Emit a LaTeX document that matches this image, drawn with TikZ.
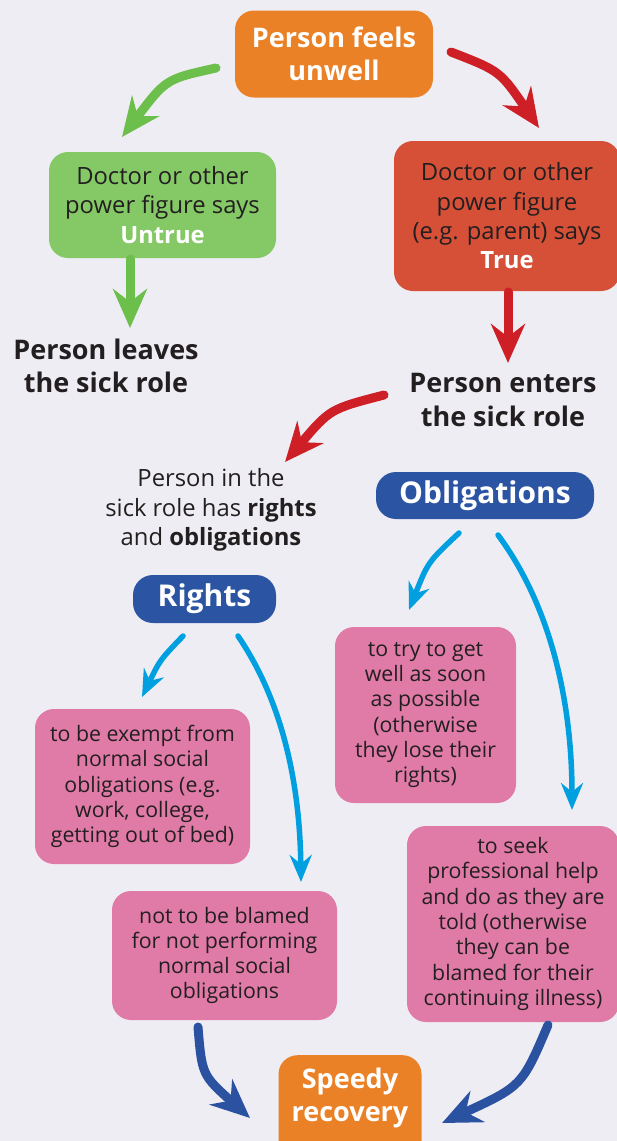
\documentclass[tikz,border=0pt]{standalone}
\usepackage{fontspec}
\setmainfont{Open Sans}
\usetikzlibrary{arrows.meta}
\definecolor{bg}{HTML}{EFEDF4}
\definecolor{orng}{HTML}{EA8126}
\definecolor{grnbox}{HTML}{85C866}
\definecolor{grnarr}{HTML}{6BBF4A}
\definecolor{redbox}{HTML}{D65038}
\definecolor{redarr}{HTML}{CE1F26}
\definecolor{bluebox}{HTML}{2B55A3}
\definecolor{cyanarr}{HTML}{009FE0}
\definecolor{pinkbox}{HTML}{E07AA6}
\definecolor{darkarr}{HTML}{2A52A1}
\definecolor{txt}{HTML}{231F20}
\begin{document}
\begin{tikzpicture}[x=1pt,y=-1pt,
  bodyfont/.style={font=\fontsize{23.8}{29.3}\selectfont},
  pinkfont/.style={font=\fontsize{21.3}{25.3}\selectfont},
  titlefont/.style={font=\fontsize{27}{33.5}\selectfont\bfseries},
  box/.style={rounded corners=19pt, inner sep=0pt, align=center, text=txt, bodyfont},
  pink/.style={box, fill=pinkbox, pinkfont},
  orangebox/.style={box, fill=orng, text=white, titlefont},
  bluelabel/.style={rounded corners=20pt, inner sep=0pt, align=center, fill=bluebox, text=white, font=\fontsize{30}{32}\selectfont\bfseries},
  plain/.style={inner sep=0pt, align=center, text=txt},
  thickarr/.style={line width=9pt, line cap=round, -{Stealth[length=39pt,width=34pt,inset=13pt]}},
  thinarr/.style={line width=5.5pt, line cap=round, -{Stealth[length=27pt,width=22pt,inset=9pt]}}
]
\useasboundingbox (0,0) rectangle (617,1141);
\fill[bg] (0,0) rectangle (617,1141);

% nodes
\node[orangebox, minimum width=198pt, minimum height=87pt] (feel) at (334,54) {Person feels\\unwell};
\node[box, fill=grnbox, minimum width=227pt, minimum height=106pt] (untrue) at (162.5,205) {Doctor or other\\power figure says\\\textcolor{white}{\bfseries Untrue}};
\node[box, fill=redbox, minimum width=226pt, minimum height=150pt] (true) at (507,216) {Doctor or other\\power figure\\(e.g. parent) says\\\textcolor{white}{\bfseries True}};
\node[plain, titlefont] (leaves) at (106,366) {Person leaves\\the sick role};
\node[plain, titlefont] (enters) at (503,400) {Person enters\\the sick role};
\node[plain, bodyfont] (inthe) at (211,510) {Person in the\\sick role has \textbf{rights}\\and \textbf{obligations}};
\node[bluelabel, minimum width=218pt, minimum height=47pt] (oblig) at (485,495.5) {Obligations};
\node[bluelabel, minimum width=143pt, minimum height=48pt] (rights) at (204.5,599) {Rights};
\node[pink, minimum width=181pt, minimum height=176pt] (try) at (425.5,715) {to try to get\\well as soon\\as possible\\(otherwise\\they lose their\\rights)};
\node[pink, minimum width=215pt, minimum height=155pt] (exempt) at (142.5,786.5) {to be exempt from\\normal social\\obligations (e.g.\\work, college,\\getting out of bed)};
\node[pink, minimum width=212pt, minimum height=196pt] (seek) at (513,924) {to seek\\professional help\\and do as they are\\told (otherwise\\they can be\\blamed for their\\continuing illness)};
\node[pink, minimum width=225pt, minimum height=129pt] (blamed) at (224.5,955.5) {not to be blamed\\for not performing\\normal social\\obligations};
\node[orangebox, minimum width=143pt, anchor=north, text depth=50pt, font=\fontsize{27}{33.5}\selectfont\bfseries] (speedy) at (350,1055) {\rule{0pt}{33pt}Speedy\\recovery};

% connector end points
\coordinate (g1s) at (216,68);   \coordinate (g1e) at (122,137);
\coordinate (r1s) at (451,52);   \coordinate (r1e) at (539,128);
\coordinate (g2s) at (130,259);  \coordinate (g2e) at (130,328);
\coordinate (r2s) at (508,292);  \coordinate (r2e) at (508,363);
\coordinate (r3s) at (384,395);  \coordinate (r3e) at (285,462);
\coordinate (c1s) at (459,533);  \coordinate (c1e) at (409,610);
\coordinate (c2s) at (498,535);  \coordinate (c2e) at (572,810);
\coordinate (c3s) at (183,636);  \coordinate (c3e) at (142,697);
\coordinate (c4s) at (238,636);  \coordinate (c4e) at (301,882);
\coordinate (d1s) at (198,1027); \coordinate (d1e) at (250,1118);
\coordinate (d2s) at (548,1025); \coordinate (d2e) at (442,1123);

% connectors
\draw[thickarr, grnarr] (g1s) .. controls (166,79) .. (g1e);
\draw[thickarr, redarr] (r1s) .. controls (500,71) .. (r1e);
\draw[thickarr, grnarr] (g2s) -- (g2e);
\draw[thickarr, redarr] (r2s) -- (r2e);
\draw[thickarr, redarr] (r3s) .. controls (330,409) .. (r3e);
\draw[thinarr, cyanarr] (c1s) .. controls (428,562) .. (c1e);
\draw[thinarr, cyanarr] (c2s) .. controls (550,605) and (572,700) .. (c2e);
\draw[thinarr, cyanarr] (c3s) .. controls (160,660) .. (c3e);
\draw[thinarr, cyanarr] (c4s) .. controls (285,705) and (300,790) .. (c4e);
\draw[thickarr, darkarr] (d1s) .. controls (202,1075) .. (d1e);
\draw[thickarr, darkarr] (d2s) .. controls (522,1086) .. (d2e);
\end{tikzpicture}
\end{document}
